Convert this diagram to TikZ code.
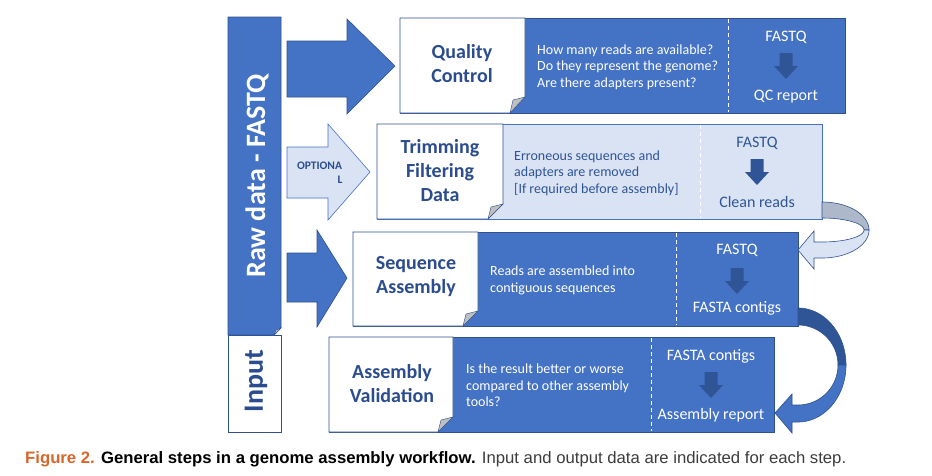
\documentclass[tikz,border=0pt]{standalone}
\usepackage{fontspec}
\setmainfont{Carlito}
\newfontfamily\capfont{Liberation Sans}
\usepackage{graphicx}
\definecolor{mainblue}{HTML}{4472C4}
\definecolor{edgeblue}{HTML}{2F528F}
\definecolor{darkblue}{HTML}{2F5597}
\definecolor{titleblue}{HTML}{2B4C8E}
\definecolor{lightblue}{HTML}{DAE3F3}
\definecolor{backgray}{HTML}{ADB9CA}
\definecolor{foldgray}{HTML}{BFBFBF}
\definecolor{figorange}{HTML}{D9652B}
\definecolor{captext}{HTML}{3C3C3C}
\tikzset{
  bigarrow/.style={fill=mainblue, draw=edgeblue, line width=0.6pt},
  optarrow/.style={fill=lightblue, draw=mainblue, line width=0.6pt},
  stepbox/.style={fill=mainblue, draw=edgeblue, line width=0.6pt},
  lightbox/.style={fill=lightblue, draw=mainblue, line width=0.6pt},
  whitepart/.style={fill=white, draw=edgeblue, line width=0.6pt},
  fold/.style={fill=foldgray, draw=edgeblue, line width=0.4pt},
  sep/.style={draw=white, line width=0.8pt, dash pattern=on 4pt off 3pt},
  title/.style={font=\fontsize{20}{24}\selectfont\bfseries, text=titleblue, align=center, inner sep=0pt},
  desc/.style={font=\fontsize{14}{16.5}\selectfont, align=left, anchor=west, inner sep=0pt},
  outlbl/.style={font=\fontsize{16}{18}\selectfont, inner sep=0pt},
  dnarr/.pic={\fill[darkblue] (-6.5,0)--(6.5,0)--(6.5,13)--(12,13)--(0,26)--(-12,13)--(-6.5,13)--cycle;}
}
\begin{document}
\begin{tikzpicture}[x=1pt,y=-1pt]
\useasboundingbox (0,0) rectangle (932,475);
\fill[white] (0,0) rectangle (932,475);

% left column
\draw[whitepart] (228,335) rectangle (281,432);
\filldraw[stepbox] (228,17) -- (281,17) -- (281,328) -- (274,335) -- (228,335) -- cycle;
\filldraw[fold] (281,328) -- (274,335) -- (276,330) -- cycle;
\node[rotate=90, font=\fontsize{28}{30}\selectfont\bfseries, text=white, inner sep=0pt] (raw) at (257,176) {Raw data - FASTQ};
\node[rotate=90, font=\fontsize{28}{30}\selectfont\bfseries, text=titleblue, inner sep=0pt] (input) at (256,381) {Input};

% big arrows
\filldraw[bigarrow] (287,41) -- (347,41) -- (347,19) -- (395,66) -- (347,114) -- (347,97) -- (287,97) -- cycle;
\filldraw[optarrow] (287,147) -- (328,147) -- (328,124) -- (370,172) -- (328,220) -- (328,198) -- (287,198) -- cycle;
\node[font=\fontsize{11.5}{14}\selectfont\bfseries, text=titleblue, align=center, inner sep=0pt] (opt) at (319.5,173) {OPTIONA\\\hspace*{41pt}L};
\filldraw[bigarrow] (287,253) -- (317,253) -- (317,230) -- (347,278) -- (317,327) -- (317,302) -- (287,302) -- cycle;

% Quality control
\filldraw[stepbox] (400,18) rectangle (845,113);
\filldraw[whitepart] (400,18) -- (525,18) -- (525,97) -- (510,113) -- (400,113) -- cycle;
\filldraw[fold] (525,97) -- (510,113) -- (513,100) -- cycle;
\draw[sep] (728,19) -- (728,112);
\node[title] (qct) at (462,63.5) {Quality\\Control};
\node[desc, text=white] (qcd) at (537,67) {How many reads are available?\\Do they represent the genome?\\Are there adapters present?};
\node[outlbl, text=white] (qcin) at (786,37) {FASTQ};
\pic at (786,53) {dnarr};
\node[outlbl, text=white] (qcout) at (786,97) {QC report};

% Trimming
\filldraw[lightbox] (377,124) rectangle (822,219);
\filldraw[whitepart] (377,124) -- (503,124) -- (503,204) -- (488,219) -- (377,219) -- cycle;
\filldraw[fold] (503,204) -- (488,219) -- (491,207) -- cycle;
\draw[sep] (700,125) -- (700,218);
\node[title] (trt) at (440,171) {Trimming\\Filtering\\Data};
\node[desc, text=darkblue] (trd) at (514,173) {Erroneous sequences and\\adapters are removed\\{[If required before assembly]}};
\node[outlbl, text=darkblue] (trin) at (757,143) {FASTQ};
\pic at (757,159) {dnarr};
\node[outlbl, text=darkblue] (trout) at (757,202) {Clean reads};

% Sequence assembly
\filldraw[stepbox] (353,232) rectangle (798,326);
\filldraw[whitepart] (353,232) -- (478,232) -- (478,311) -- (463,326) -- (353,326) -- cycle;
\filldraw[fold] (478,311) -- (463,326) -- (466,314) -- cycle;
\draw[sep] (676,233) -- (676,325);
\node[title] (sat) at (416,277) {Sequence\\Assembly};
\node[desc, text=white] (sad) at (490,280.5) {Reads are assembled into\\contiguous sequences};
\node[outlbl, text=white] (sain) at (737,250) {FASTQ};
\pic at (737,268) {dnarr};
\node[outlbl, text=white] (saout) at (737,308) {FASTA contigs};

% Assembly validation
\filldraw[stepbox] (329,337) rectangle (774,432);
\filldraw[whitepart] (329,337) -- (453,337) -- (453,417) -- (438,432) -- (329,432) -- cycle;
\filldraw[fold] (453,417) -- (438,432) -- (441,420) -- cycle;
\draw[sep] (651,338) -- (651,431);
\node[title] (avt) at (392,383.5) {Assembly\\Validation};
\node[desc, text=white] (avd) at (466,385.5) {Is the result better or worse\\compared to other assembly\\tools?};
\node[outlbl, text=white] (avin) at (711,356) {FASTA contigs};
\pic at (711,372) {dnarr};
\node[outlbl, text=white] (avout) at (711,415) {Assembly report};

% curved arrow: trimming -> sequence
\filldraw[fill=backgray, draw=edgeblue, line width=0.6pt]
  plot[domain=-90:0, samples=40] ({822+47*cos(\x)},{230+28*sin(\x)})
  -- plot[domain=0:-90, samples=40] ({822+42*cos(\x)},{230+12*sin(\x)}) -- cycle;
\filldraw[fill=lightblue, draw=edgeblue, line width=0.6pt]
  plot[domain=0:90, samples=40] ({822+47*cos(\x)},{230+28*sin(\x)})
  -- (814,258) -- (814,269) -- (798,250) -- (814,231) -- (814,242)
  -- plot[domain=90:0, samples=40] ({822+42*cos(\x)},{230+12*sin(\x)}) -- cycle;

% curved arrow: sequence -> validation
\filldraw[fill=darkblue, draw=edgeblue, line width=0.6pt]
  plot[domain=-90:0, samples=40] ({798+48*cos(\x)},{365+57*sin(\x)})
  -- plot[domain=0:-90, samples=40] ({798+40*cos(\x)},{365+40*sin(\x)}) -- cycle;
\filldraw[fill=mainblue, draw=edgeblue, line width=0.6pt]
  plot[domain=0:90, samples=40] ({798+48*cos(\x)},{365+57*sin(\x)})
  -- (792,422) -- (792,433) -- (775,413) -- (792,394) -- (792,405)
  -- plot[domain=90:0, samples=40] ({798+40*cos(\x)},{365+40*sin(\x)}) -- cycle;

% caption
\node[anchor=west, inner sep=0pt, font=\capfont\fontsize{16.5}{19}\selectfont] (cap) at (25,459)
  {\resizebox{821pt}{\height}{\textcolor{figorange}{\bfseries Figure 2.} \textcolor{black}{\bfseries General steps in a genome assembly workflow.} \textcolor{captext}{Input and output data are indicated for each step.}}};
\end{tikzpicture}
\end{document}
